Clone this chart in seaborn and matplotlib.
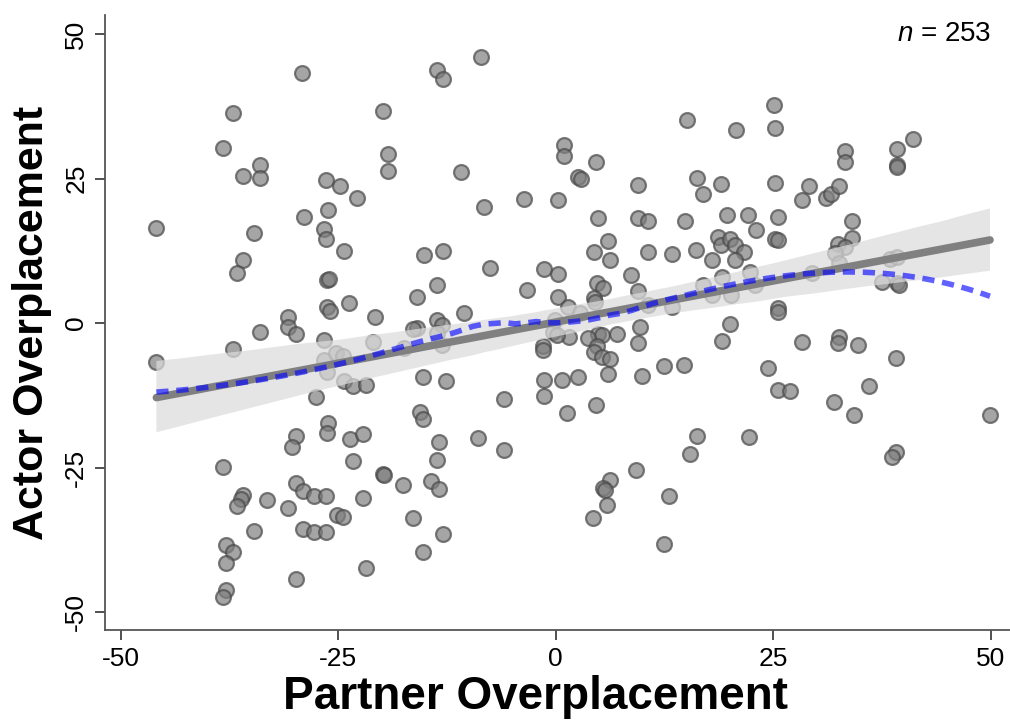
import numpy as np
import pandas as pd
import matplotlib
matplotlib.use("Agg")
import matplotlib.pyplot as plt
from matplotlib.collections import PolyCollection
import seaborn as sns

# Partner vs. actor overplacement scores (one entry per dyad member)
partner = [
    -29.2, -37.1, -38.2, -34.0, -35.9, -34.0, -26.4, -26.2, -28.9, -8.6,
    -13.7, -13.0, -19.9, -19.3, -19.3, -10.9, -24.8, -22.8, -8.2, -3.7,
    15.1, 20.7, 25.1, 25.2, 0.9, 0.9, 4.6, 2.6, 2.9, 9.4,
    16.2, 16.9, 19.0, 25.2, 0.3, 4.8, 9.5, 10.6, 14.9, 19.7,
    22.1, 25.5, 41.0, 39.2, 39.2, 39.2, 33.2, 33.2, 29.1, 28.3,
    31.1, 31.6, 32.6, 34.0, -45.9, -34.7, -26.6, -26.4, -35.9, -36.6,
    -26.3, -26.1, -26.3, -25.9, -30.8, -30.8, -29.9, -34.0, -37.1, -26.6,
    -45.9, -26.6, -25.3, -26.3, -27.6, -26.2, -24.3, -15.1, -13.0, -7.6,
    -1.4, 0.3, -13.7, -15.9, -3.3, 0.3, -23.8, -20.8, -10.6, -13.6,
    -13.1, -16.0, -16.4, -21.0, -24.4, -17.4, -13.7, -13.1, -1.5, -1.5,
    -0.3, -15.3, -12.6, -24.3, -23.3, -21.8, -1.4, 0.7, -5.9, -1.4,
    -15.6, -15.3, 23.0, 6.0, 4.4, 6.2, 10.6, 13.3, 16.1, 17.9,
    18.7, 19.0, 20.0, 20.6, 21.6, 20.6, 25.2, 25.5, 8.6, 4.7,
    5.4, 9.5, 4.4, 4.5, 16.9, 19.1, 22.3, 22.9, 18.0, 20.1,
    13.3, 10.6, 1.4, 2.8, -0.1, 25.5, 25.5, 9.7, 20.0, 19.1,
    4.8, 5.3, 7.0, 3.7, 1.5, 9.4, 4.7, 4.4, 5.3, 6.2,
    0.1, 12.4, 14.7, 24.4, 9.9, 6.0, 2.6, 25.5, 4.6, 1.3,
    34.0, 32.4, 33.2, 32.1, 38.4, 39.2, 32.6, 29.5, 37.5, 39.2,
    39.4, 28.3, 32.6, 32.4, 34.7, 39.1, 26.9, 36.0, 32.0, 34.3,
    49.9, -38.3, -36.0, -36.2, -36.6, -33.2, -30.8, -29.8, -30.3, -29.9,
    -29.1, -27.8, -26.4, -26.3, -34.7, -29.1, -27.8, -26.4, -37.9, -37.1,
    -37.9, -29.9, -37.9, -38.3, -23.7, -22.1, -13.4, -8.9, -5.9, -23.3,
    -13.7, -19.9, -19.7, -17.6, -14.3, -13.4, -22.1, -25.2, -24.5, -16.4,
    -13.0, -15.3, -21.8, 16.2, 22.2, 15.4, 9.2, 6.2, 5.4, 5.6,
    5.9, 4.3, 13.0, 12.4, 39.1, 38.6,
]
actor = [
    43.3, 36.3, 30.3, 27.3, 25.4, 25.1, 24.7, 19.6, 18.3, 46.0,
    43.8, 42.2, 36.7, 29.2, 26.3, 26.1, 23.7, 21.6, 20.1, 21.5,
    35.1, 33.4, 37.7, 33.7, 30.8, 28.9, 27.9, 25.3, 24.9, 23.9,
    25.1, 22.3, 24.0, 24.2, 21.3, 18.2, 18.2, 17.6, 17.6, 18.7,
    18.7, 18.3, 31.8, 30.1, 27.3, 27.0, 29.8, 27.9, 23.7, 21.3,
    21.6, 22.3, 23.7, 17.6, 16.4, 15.6, 16.3, 14.5, 10.9, 8.7,
    7.4, 7.6, 2.8, 2.1, 1.0, -0.7, -1.9, -1.6, -4.5, -2.9,
    -6.7, -6.4, -5.2, -8.5, -12.8, -17.3, 12.5, 11.8, 12.5, 9.5,
    9.3, 8.5, 6.6, 4.5, 5.7, 4.5, 3.5, 1.0, 1.7, 0.5,
    -0.3, -0.9, -1.0, -3.3, -5.7, -4.3, -1.7, -3.8, -4.0, -4.7,
    -1.6, -9.3, -10.0, -10.0, -10.9, -10.7, -9.9, -9.9, -13.1, -12.6,
    -15.4, -16.6, 16.1, 14.2, 12.3, 10.9, 12.3, 11.9, 12.6, 10.9,
    14.9, 13.5, 14.5, 13.5, 12.3, 10.9, 14.5, 14.4, 8.3, 6.9,
    6.1, 5.5, 4.3, 3.6, 6.6, 8.0, 8.8, 6.6, 4.8, 4.8,
    2.8, 3.1, 2.8, 1.7, 0.5, 2.6, 1.9, -0.7, -0.2, -3.1,
    -1.9, -2.1, -1.9, -2.6, -2.4, -3.5, -4.0, -5.0, -5.9, -6.2,
    -2.1, -7.4, -7.3, -7.8, -9.2, -8.8, -9.3, -11.6, -14.2, -15.6,
    14.7, 13.7, 13.1, 12.1, 11.1, 11.4, 10.4, 8.7, 7.1, 6.9,
    6.6, -3.3, -2.4, -3.5, -3.8, -6.1, -11.8, -10.9, -13.7, -15.9,
    -15.9, -24.9, -29.8, -30.4, -31.7, -30.6, -32.0, -19.6, -21.5, -27.7,
    -29.1, -29.9, -29.9, -19.0, -36.0, -35.6, -36.2, -36.2, -38.4, -39.6,
    -41.5, -44.3, -46.2, -47.4, -20.1, -19.2, -20.6, -19.9, -22.0, -23.9,
    -23.7, -26.1, -26.3, -28.0, -27.3, -28.7, -30.3, -33.2, -33.6, -33.7,
    -36.5, -39.6, -42.4, -19.6, -19.7, -22.7, -25.4, -27.2, -28.5, -28.9,
    -31.5, -33.7, -29.9, -38.2, -22.3, -23.2,
]
axis_ticks = [-50, -25, 0, 25, 50]
n_label = "253"

df = pd.DataFrame({"partner": partner, "actor": actor})


def loess(x, y, span=0.75, degree=2, n_grid=80):
    """Local polynomial smoother with tricube weights, evaluated on a grid."""
    x = np.asarray(x, float)
    y = np.asarray(y, float)
    n = len(x)
    q = int(np.floor(n * span))
    grid = np.linspace(x.min(), x.max(), n_grid)
    fit = np.empty(n_grid)
    for i, x0 in enumerate(grid):
        d = np.abs(x - x0)
        h = np.sort(d)[q - 1]
        w = np.clip(d / h, 0, 1)
        w = (1 - w ** 3) ** 3
        X = np.vander(x - x0, degree + 1, increasing=True)
        sw = np.sqrt(w)
        coef, *_ = np.linalg.lstsq(X * sw[:, None], y * sw, rcond=None)
        fit[i] = coef[0]
    return grid, fit


sns.set_theme(style="ticks")
plt.rcParams["font.family"] = ["Liberation Sans", "DejaVu Sans"]
plt.rcParams["mathtext.fontset"] = "custom"
plt.rcParams["mathtext.it"] = "Liberation Sans:italic"
plt.rcParams["mathtext.rm"] = "Liberation Sans"
plt.rcParams["text.color"] = "black"
plt.rcParams["axes.labelcolor"] = "black"
plt.rcParams["xtick.color"] = "black"
plt.rcParams["ytick.color"] = "black"

fig = plt.figure(figsize=(10.1, 7.2), dpi=100)
ax = fig.add_axes([0.104, 0.125, 0.896, 0.854])

sns.scatterplot(data=df, x="partner", y="actor", ax=ax, s=115,
                color="#7f7f7f", alpha=0.7, edgecolor="#4a4a4a",
                linewidth=1.6, zorder=2, legend=False)

sns.regplot(data=df, x="partner", y="actor", ax=ax, scatter=False, ci=95,
            seed=11, color="#808080", line_kws=dict(linewidth=5.5, zorder=4))
for coll in ax.collections:
    if isinstance(coll, PolyCollection):
        coll.set_facecolor("#dcdcdc")
        coll.set_edgecolor("none")
        coll.set_alpha(0.72)
        coll.set_zorder(3)

xs, smooth = loess(df["partner"].values, df["actor"].values)
ax.plot(xs, smooth, color="#0000ff", alpha=0.62, linewidth=4,
        dashes=(2.2, 1.4), zorder=5)

ax.set_xlim(-51.8, 52.2)
ax.set_ylim(-53.1, 53.3)
ax.set_xticks(axis_ticks)
ax.set_yticks(axis_ticks)
ax.set_xticklabels([str(t) for t in axis_ticks])
ax.set_yticklabels([str(t) for t in axis_ticks])
ax.tick_params(axis="both", labelsize=19, length=7, width=1.2,
               color="#333333", labelcolor="black", pad=5)
ax.tick_params(axis="y", labelrotation=90)
for lab in ax.get_yticklabels():
    lab.set_verticalalignment("center")

for side in ("top", "right"):
    ax.spines[side].set_visible(False)
for side in ("left", "bottom"):
    ax.spines[side].set_color("#555555")
    ax.spines[side].set_linewidth(1.3)

ax.set_xlabel("Partner Overplacement", fontsize=33, fontweight="bold",
              color="black")
ax.set_ylabel("Actor Overplacement", fontsize=31, fontweight="bold",
              color="black")
ax.xaxis.set_label_coords(0.476, -0.109)
ax.yaxis.set_label_coords(-0.081, 0.50)
ax.xaxis.label.set_verticalalignment("center")
ax.yaxis.label.set_verticalalignment("center")

ax.text(50, 50, r"$n$ = " + n_label, ha="right", va="center", fontsize=20,
        color="black")

fig.savefig("out.png", dpi=100)
